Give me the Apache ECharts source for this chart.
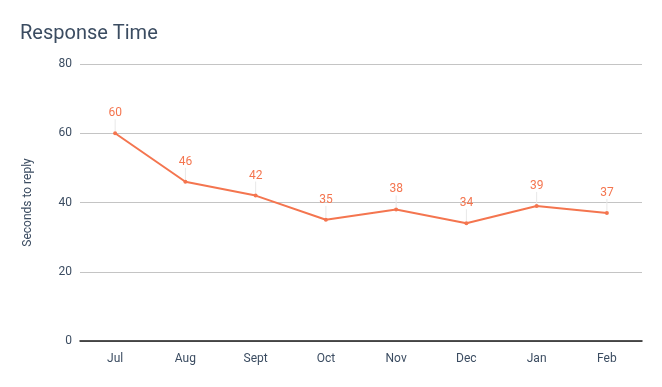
<!DOCTYPE html>
<html><head><meta charset="utf-8">
<script src="https://cdn.jsdelivr.net/npm/echarts@6/dist/echarts.min.js"></script>
<style>html,body{margin:0;padding:0;background:#fff}#c{width:662px;height:387px}</style>
</head><body><div id="c"></div>
<script>
const categories = ['Jul','Aug','Sept','Oct','Nov','Dec','Jan','Feb'];
const responseTimes = [60,46,42,35,38,34,39,37];
const yTicks = [0,20,40,60,80];

const chart = echarts.init(document.getElementById('c'), null, {renderer:'canvas'});
chart.setOption({
  backgroundColor:'#fff',
  animation:false,
  title:{text:'Response Time',left:15,top:19,textStyle:{fontFamily:'Roboto',fontSize:20,fontWeight:'normal',color:'#3b4c61'}},
  grid:{left:80,right:20,top:64,bottom:46},
  xAxis:{type:'category',data:categories,boundaryGap:true,
    axisLine:{lineStyle:{color:'#1a1a1a',width:1.5}},
    axisTick:{alignWithLabel:true,length:6,lineStyle:{color:'#3b4c61'}},
    axisLabel:{fontFamily:'Roboto',fontSize:12,color:'#3b4c61',margin:12}},
  yAxis:{type:'value',min:yTicks[0],max:yTicks[yTicks.length-1],interval:20,
    name:'Seconds to reply',nameLocation:'middle',nameGap:46,
    nameTextStyle:{fontFamily:'Roboto',fontSize:12,color:'#3b4c61'},
    axisLine:{show:false},axisTick:{show:false},
    axisLabel:{fontFamily:'Roboto',fontSize:12,color:'#3b4c61',margin:8},
    splitLine:{lineStyle:{color:'#c4c4c4',width:1}}},
  series:[{type:'line',data:responseTimes,
    lineStyle:{color:'#f4754f',width:2},
    itemStyle:{color:'#f4754f'},
    symbol:'circle',symbolSize:4,
    label:{show:true,position:'top',distance:6,fontFamily:'Roboto',fontSize:12,color:'#f4754f'},
    labelLayout:{dy:-6},
    labelLine:{show:true,lineStyle:{color:'#e8e8e8',width:1}}
  }]
});
</script></body></html>
